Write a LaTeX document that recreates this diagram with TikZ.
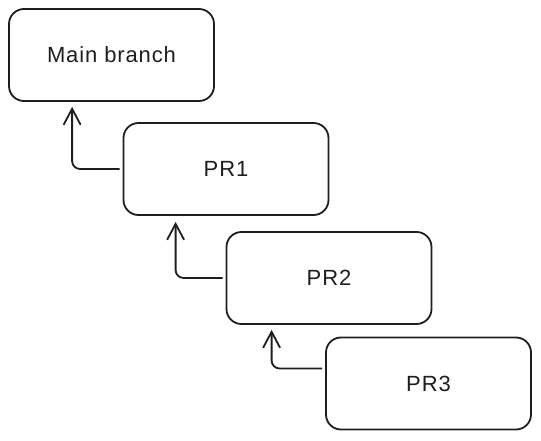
\documentclass[tikz,border=0pt]{standalone}
\usepackage{fontspec}
\setmainfont{Liberation Sans}[LetterSpace=4]
\usetikzlibrary{arrows.meta}
\definecolor{ink}{HTML}{1E1E1E}
\begin{document}
\begin{tikzpicture}[x=1pt,y=-1pt,
  box/.style={draw=ink,line width=1.8pt,rounded corners=15pt,minimum width=205pt,minimum height=92pt,inner sep=0pt,font=\fontsize{22}{26}\selectfont,text=ink},
  conn/.style={draw=ink,line width=1.8pt,rounded corners=8pt,-{Straight Barb[length=16pt,width=17pt,line width=1.8pt]}}]
\useasboundingbox (0,0) rectangle (541,441);
\node[box] (main) at (111.5,55) {Main branch};
\node[box] (p1) at (226,169) {PR1};
\node[box] (p2) at (329,278) {PR2};
\node[box] (p3) at (428.5,383.5) {PR3};
\draw[conn] ([xshift=-3pt]p1.west) -| ([xshift=64pt,yshift=-5pt]main.south west);
\draw[conn] ([xshift=-3pt]p2.west) -| ([xshift=53pt,yshift=-6pt]p1.south west);
\draw[conn] ([xshift=-3pt,yshift=15pt]p3.west) -| ([xshift=46pt,yshift=-5pt]p2.south west);
\end{tikzpicture}
\end{document}
